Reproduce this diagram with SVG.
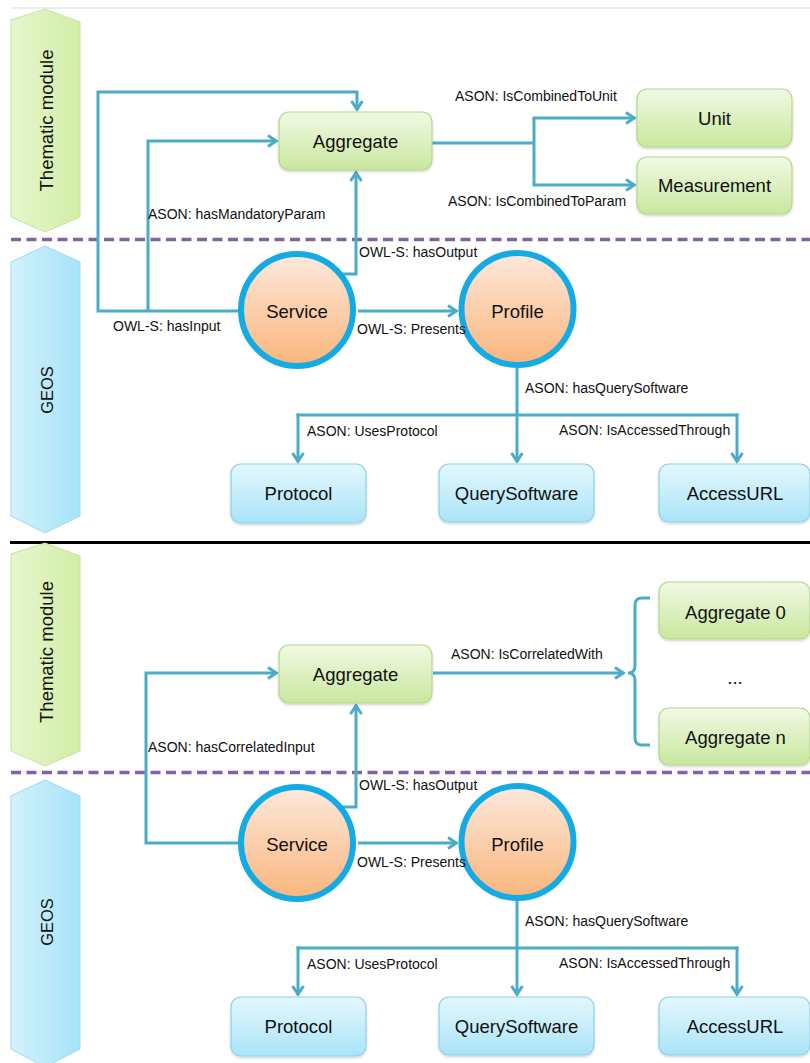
<svg xmlns="http://www.w3.org/2000/svg" width="810" height="1063" viewBox="0 0 810 1063">
<defs>
<style>
.node-t{font-family:"Liberation Sans",Arial,sans-serif;font-size:18.5px;fill:#111;text-anchor:middle}
.lbl{font-family:"Liberation Sans",Arial,sans-serif;font-size:14px;fill:#111}
.side{font-family:"Liberation Sans",Arial,sans-serif;fill:#111;text-anchor:middle}
.gbox{fill:url(#gGreen);stroke:#B3D88A;stroke-width:1.2;filter:url(#sh)}
.bbox{fill:url(#gBlue);stroke:#8ED2EA;stroke-width:1.2;filter:url(#sh)}
.circ{fill:url(#gPeach);stroke:#14AAE3;stroke-width:6}
.con{fill:none;stroke:#4BACC6;stroke-width:3}
.arr{marker-end:url(#arr)}
.dash{stroke:#8064A2;stroke-width:3.5;stroke-dasharray:10 5.5;fill:none}
</style>
<linearGradient id="gGreen" x1="0" y1="0" x2="0" y2="1">
<stop offset="0" stop-color="#F1F9E4"/>
<stop offset="1" stop-color="#C9E79E"/>
</linearGradient>
<linearGradient id="gBlue" x1="0" y1="0" x2="0" y2="1">
<stop offset="0" stop-color="#E5F7FD"/>
<stop offset="1" stop-color="#A9E4F8"/>
</linearGradient>
<linearGradient id="gPeach" x1="0" y1="0" x2="0" y2="1">
<stop offset="0" stop-color="#FDE9DC"/>
<stop offset="1" stop-color="#F9B57C"/>
</linearGradient>
<linearGradient id="gHexG" x1="0" y1="0" x2="1" y2="0">
<stop offset="0" stop-color="#E6F6CD"/>
<stop offset="1" stop-color="#D2EEA6"/>
</linearGradient>
<linearGradient id="gHexB" x1="0" y1="0" x2="1" y2="0">
<stop offset="0" stop-color="#D3F2FC"/>
<stop offset="1" stop-color="#A6E3F8"/>
</linearGradient>
<filter id="sh" x="-10%" y="-10%" width="120%" height="130%">
<feDropShadow dx="0" dy="1.5" stdDeviation="1.2" flood-color="#000" flood-opacity="0.18"/>
</filter>
<marker id="arr" viewBox="-12 -8 14 16" refX="0" refY="0" markerWidth="14" markerHeight="16" markerUnits="userSpaceOnUse" orient="auto">
<path d="M-9,-5.5 L-0.8,0 L-9,5.5" fill="none" stroke="#4BACC6" stroke-width="3"/>
</marker>
</defs>
<rect width="810" height="1063" fill="#fff"/>

<g id="frame">
<line x1="11" y1="8" x2="810" y2="8" stroke="#EDEDED" stroke-width="2"/>
<line x1="11" y1="239.5" x2="810" y2="239.5" class="dash"/>
<line x1="10" y1="542.5" x2="810" y2="542.5" stroke="#000" stroke-width="3"/>
<line x1="11" y1="772.5" x2="810" y2="772.5" class="dash"/>
</g>

<!-- TOP HALF -->
<g id="thematic-top">
<polygon points="11,20 45,9 80,22 80,217 45,232 11,217" fill="url(#gHexG)" stroke="#C6E49C" stroke-width="1"/>
<text class="side" font-size="18.5" transform="translate(52.5,120.5) rotate(-90)">Thematic module</text>
</g>
<g id="geos-top">
<polygon points="11,262 45,246 80,262 80,516 45,533 11,516" fill="url(#gHexB)" stroke="#9CD9EE" stroke-width="1"/>
<text class="side" font-size="16.5" transform="translate(52.5,390) rotate(-90)">GEOS</text>
</g>

<g id="connectors-top">
<path class="con arr" d="M238,311 H98 V92 H357 V110"/>
<path class="con arr" d="M148,311 V141 H277"/>
<path class="con arr" d="M340,274 H356 V172"/>
<path class="con arr" d="M358,311 H457"/>
<path class="con" d="M432,143 H534 M534,118 V185"/>
<path class="con arr" d="M532.5,118 H635"/>
<path class="con arr" d="M532.5,185 H635"/>
<path class="con" d="M517,368 V415 M296.5,415 H738.5"/>
<path class="con arr" d="M298,413.5 V462"/>
<path class="con arr" d="M517,413.5 V462"/>
<path class="con arr" d="M737,413.5 V462"/>
</g>

<g id="aggregate-top"><rect class="gbox" x="279" y="112" width="153" height="58" rx="10"/><text class="node-t" x="355.5" y="147.5">Aggregate</text></g>
<g id="unit"><rect class="gbox" x="637" y="89" width="155" height="58" rx="10"/><text class="node-t" x="714.5" y="124.5">Unit</text></g>
<g id="measurement"><rect class="gbox" x="637" y="157" width="155" height="57" rx="10"/><text class="node-t" x="714.5" y="192">Measurement</text></g>
<g id="service-top"><circle class="circ" cx="297" cy="310" r="56"/><text class="node-t" x="297" y="318">Service</text></g>
<g id="profile-top"><circle class="circ" cx="517.5" cy="309" r="56"/><text class="node-t" x="517.5" y="318">Profile</text></g>
<g id="protocol-top"><rect class="bbox" x="231" y="464" width="135" height="59" rx="10"/><text class="node-t" x="298.5" y="500">Protocol</text></g>
<g id="querysoftware-top"><rect class="bbox" x="439" y="464" width="155" height="58" rx="10"/><text class="node-t" x="516.5" y="500">QuerySoftware</text></g>
<g id="accessurl-top"><rect class="bbox" x="659" y="464" width="151" height="58" rx="10"/><text class="node-t" x="735" y="500">AccessURL</text></g>

<g id="labels-top">
<text class="lbl" x="455" y="101">ASON: IsCombinedToUnit</text>
<text class="lbl" x="448" y="206">ASON: IsCombinedToParam</text>
<text class="lbl" x="148" y="219">ASON: hasMandatoryParam</text>
<text class="lbl" x="359" y="257">OWL-S: hasOutput</text>
<text class="lbl" x="113" y="331">OWL-S: hasInput</text>
<text class="lbl" x="357" y="334">OWL-S: Presents</text>
<text class="lbl" x="525" y="393">ASON: hasQuerySoftware</text>
<text class="lbl" x="307" y="436">ASON: UsesProtocol</text>
<text class="lbl" x="559" y="435">ASON: IsAccessedThrough</text>
</g>

<!-- BOTTOM HALF -->
<g id="thematic-bottom">
<polygon points="11,554 45,543 80,556 80,751 45,766 11,751" fill="url(#gHexG)" stroke="#C6E49C" stroke-width="1"/>
<text class="side" font-size="18.5" transform="translate(52.5,652) rotate(-90)">Thematic module</text>
</g>
<g id="geos-bottom">
<polygon points="11,796 45,780 80,796 80,1049 45,1067 11,1049" fill="url(#gHexB)" stroke="#9CD9EE" stroke-width="1"/>
<text class="side" font-size="16.5" transform="translate(52.5,922) rotate(-90)">GEOS</text>
</g>

<g id="connectors-bottom">
<path class="con arr" d="M238,843 H146 V673 H277"/>
<path class="con arr" d="M340,807 H356 V705"/>
<path class="con arr" d="M358,843 H457"/>
<path class="con arr" d="M433,673 H624"/>
<path class="con" d="M650,598 H642 Q635,598 635,605 V666 Q635,673 628,673 Q635,673 635,680 V738 Q635,745 642,745 H650"/>
<path class="con" d="M517,901 V948 M296.5,948 H738.5"/>
<path class="con arr" d="M298,946.5 V995"/>
<path class="con arr" d="M517,946.5 V995"/>
<path class="con arr" d="M737,946.5 V995"/>
</g>

<g id="aggregate-bottom"><rect class="gbox" x="279" y="645" width="153" height="58" rx="10"/><text class="node-t" x="355.5" y="681">Aggregate</text></g>
<g id="aggregate-0"><rect class="gbox" x="659" y="582" width="151" height="57" rx="10"/><text class="node-t" x="735.5" y="619">Aggregate 0</text></g>
<g id="ellipsis"><text class="node-t" x="735" y="684" font-size="16">...</text></g>
<g id="aggregate-n"><rect class="gbox" x="659" y="708" width="151" height="57" rx="10"/><text class="node-t" x="735.5" y="744">Aggregate n</text></g>
<g id="service-bottom"><circle class="circ" cx="297" cy="843" r="56"/><text class="node-t" x="297" y="851">Service</text></g>
<g id="profile-bottom"><circle class="circ" cx="517.5" cy="842" r="56"/><text class="node-t" x="517.5" y="851">Profile</text></g>
<g id="protocol-bottom"><rect class="bbox" x="231" y="997" width="135" height="59" rx="10"/><text class="node-t" x="298.5" y="1033">Protocol</text></g>
<g id="querysoftware-bottom"><rect class="bbox" x="439" y="997" width="155" height="58" rx="10"/><text class="node-t" x="516.5" y="1033">QuerySoftware</text></g>
<g id="accessurl-bottom"><rect class="bbox" x="659" y="997" width="151" height="58" rx="10"/><text class="node-t" x="735" y="1033">AccessURL</text></g>

<g id="labels-bottom">
<text class="lbl" x="148" y="752">ASON: hasCorrelatedInput</text>
<text class="lbl" x="451" y="659">ASON: IsCorrelatedWith</text>
<text class="lbl" x="359" y="790">OWL-S: hasOutput</text>
<text class="lbl" x="357" y="867">OWL-S: Presents</text>
<text class="lbl" x="525" y="926">ASON: hasQuerySoftware</text>
<text class="lbl" x="307" y="969">ASON: UsesProtocol</text>
<text class="lbl" x="559" y="968">ASON: IsAccessedThrough</text>
</g>
</svg>
